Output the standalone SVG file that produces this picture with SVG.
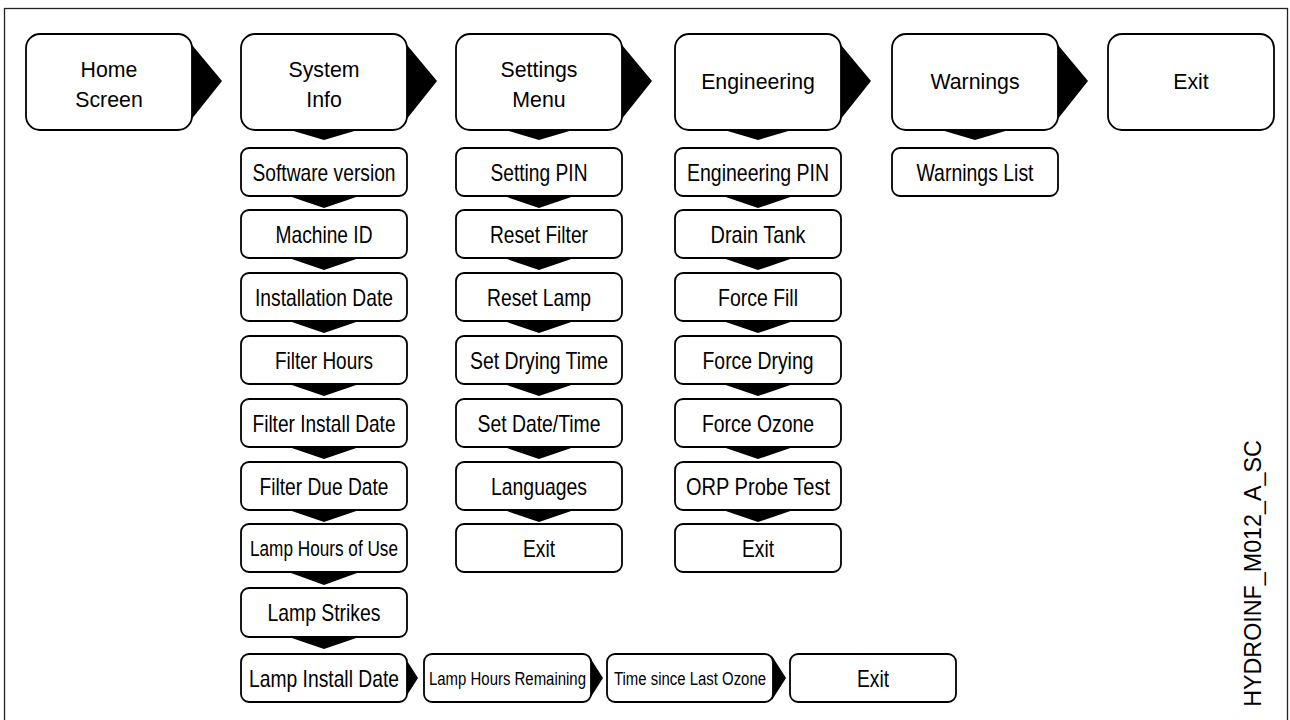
<svg xmlns="http://www.w3.org/2000/svg" width="1290" height="720" viewBox="0 0 1290 720">
<defs>
<style>
.box{fill:#fff;stroke:#000;stroke-width:1.8}
.arr{fill:#000;stroke:none}
.t{font-family:"Liberation Sans",Arial,sans-serif;font-size:21.3px;fill:#000;text-anchor:middle}
.s{font-family:"Liberation Sans Narrow","Arial Narrow","Liberation Sans",Arial,sans-serif;font-size:24px;fill:#000;text-anchor:middle}
.s2{font-size:21.5px}
.s3{font-size:18px}
.v{font-family:"Liberation Sans",Arial,sans-serif;font-size:23.3px;fill:#000;text-anchor:middle}
</style>
</defs>
<rect x="4.5" y="8.5" width="1283" height="730" fill="#fff" stroke="#222" stroke-width="1.3"/>
<g id="connectors">
<!-- top row right arrows -->
<polygon class="arr" points="187,39 222,81 187,125"/>
<polygon class="arr" points="402,39 437,81 402,125"/>
<polygon class="arr" points="617,39 652,81 617,125"/>
<polygon class="arr" points="836,39 871,81 836,125"/>
<polygon class="arr" points="1053,39 1088,81 1053,125"/>
<!-- top row down arrows -->
<polygon class="arr" points="280,127 368,127 324,140"/>
<polygon class="arr" points="495,127 583,127 539,140"/>
<polygon class="arr" points="714,127 802,127 758,140"/>
<polygon class="arr" points="931,127 1019,127 975,140"/>
<!-- column 1 -->
<polygon class="arr" points="280,193 368,193 324,208"/>
<polygon class="arr" points="280,255 368,255 324,270"/>
<polygon class="arr" points="280,318 368,318 324,333"/>
<polygon class="arr" points="280,381 368,381 324,396"/>
<polygon class="arr" points="280,444 368,444 324,459"/>
<polygon class="arr" points="280,507 368,507 324,522"/>
<polygon class="arr" points="280,569 368,569 324,585"/>
<polygon class="arr" points="280,634 368,634 324,649"/>
<!-- column 2 -->
<polygon class="arr" points="495,193 583,193 539,208"/>
<polygon class="arr" points="495,255 583,255 539,270"/>
<polygon class="arr" points="495,318 583,318 539,333"/>
<polygon class="arr" points="495,381 583,381 539,396"/>
<polygon class="arr" points="495,444 583,444 539,459"/>
<polygon class="arr" points="495,507 583,507 539,522"/>
<!-- column 3 -->
<polygon class="arr" points="714,193 802,193 758,208"/>
<polygon class="arr" points="714,255 802,255 758,270"/>
<polygon class="arr" points="714,318 802,318 758,333"/>
<polygon class="arr" points="714,381 802,381 758,396"/>
<polygon class="arr" points="714,444 802,444 758,459"/>
<polygon class="arr" points="714,507 802,507 758,522"/>
<!-- bottom row right arrows -->
<polygon class="arr" points="404,656 418,678 404,700"/>
<polygon class="arr" points="589,656 603,678 589,700"/>
<polygon class="arr" points="772,656 786,678 772,700"/>
</g>
<g id="home"><rect class="box" x="26" y="34" width="166" height="96" rx="14"/><text class="t" x="109" y="77">Home</text><text class="t" x="109" y="107">Screen</text></g>
<g id="system-info"><rect class="box" x="241" y="34" width="166" height="96" rx="14"/><text class="t" x="324" y="77">System</text><text class="t" x="324" y="107">Info</text></g>
<g id="settings-menu"><rect class="box" x="456" y="34" width="166" height="96" rx="14"/><text class="t" x="539" y="77">Settings</text><text class="t" x="539" y="107">Menu</text></g>
<g id="engineering"><rect class="box" x="675" y="34" width="166" height="96" rx="14"/><text class="t" x="758" y="89">Engineering</text></g>
<g id="warnings"><rect class="box" x="892" y="34" width="166" height="96" rx="14"/><text class="t" x="975" y="89">Warnings</text></g>
<g id="exit-main"><rect class="box" x="1108" y="34" width="166" height="96" rx="14"/><text class="t" x="1191" y="89">Exit</text></g>

<g id="software-version"><rect class="box" x="241" y="148" width="166" height="48" rx="8"/><text class="s" x="324" y="180.5" textLength="143" lengthAdjust="spacingAndGlyphs">Software version</text></g>
<g id="machine-id"><rect class="box" x="241" y="210" width="166" height="48" rx="8"/><text class="s" x="324" y="242.5" textLength="97" lengthAdjust="spacingAndGlyphs">Machine ID</text></g>
<g id="installation-date"><rect class="box" x="241" y="273" width="166" height="48" rx="8"/><text class="s" x="324" y="305.5" textLength="138" lengthAdjust="spacingAndGlyphs">Installation Date</text></g>
<g id="filter-hours"><rect class="box" x="241" y="336" width="166" height="48" rx="8"/><text class="s" x="324" y="368.5" textLength="98" lengthAdjust="spacingAndGlyphs">Filter Hours</text></g>
<g id="filter-install-date"><rect class="box" x="241" y="399" width="166" height="48" rx="8"/><text class="s" x="324" y="431.5" textLength="143" lengthAdjust="spacingAndGlyphs">Filter Install Date</text></g>
<g id="filter-due-date"><rect class="box" x="241" y="462" width="166" height="48" rx="8"/><text class="s" x="324" y="494.5" textLength="129" lengthAdjust="spacingAndGlyphs">Filter Due Date</text></g>
<g id="lamp-hours-of-use"><rect class="box" x="241" y="524" width="166" height="48" rx="8"/><text class="s s2" x="324" y="555.5" textLength="148" lengthAdjust="spacingAndGlyphs">Lamp Hours of Use</text></g>
<g id="lamp-strikes"><rect class="box" x="241" y="588" width="166" height="49" rx="8"/><text class="s" x="324" y="621" textLength="113" lengthAdjust="spacingAndGlyphs">Lamp Strikes</text></g>
<g id="lamp-install-date"><rect class="box" x="241" y="654" width="166" height="48" rx="8"/><text class="s" x="324" y="686.5" textLength="150" lengthAdjust="spacingAndGlyphs">Lamp Install Date</text></g>
<g id="lamp-hours-remaining"><rect class="box" x="424" y="654" width="167" height="48" rx="8"/><text class="s s3" x="507.5" y="685" textLength="157" lengthAdjust="spacingAndGlyphs">Lamp Hours Remaining</text></g>
<g id="time-since-last-ozone"><rect class="box" x="607" y="654" width="166" height="48" rx="8"/><text class="s s3" x="690" y="685" textLength="152" lengthAdjust="spacingAndGlyphs">Time since Last Ozone</text></g>
<g id="exit-info"><rect class="box" x="790" y="654" width="166" height="48" rx="8"/><text class="s" x="873" y="686.5" textLength="32" lengthAdjust="spacingAndGlyphs">Exit</text></g>

<g id="setting-pin"><rect class="box" x="456" y="148" width="166" height="48" rx="8"/><text class="s" x="539" y="180.5" textLength="97" lengthAdjust="spacingAndGlyphs">Setting PIN</text></g>
<g id="reset-filter"><rect class="box" x="456" y="210" width="166" height="48" rx="8"/><text class="s" x="539" y="242.5" textLength="98" lengthAdjust="spacingAndGlyphs">Reset Filter</text></g>
<g id="reset-lamp"><rect class="box" x="456" y="273" width="166" height="48" rx="8"/><text class="s" x="539" y="305.5" textLength="104" lengthAdjust="spacingAndGlyphs">Reset Lamp</text></g>
<g id="set-drying-time"><rect class="box" x="456" y="336" width="166" height="48" rx="8"/><text class="s" x="539" y="368.5" textLength="138" lengthAdjust="spacingAndGlyphs">Set Drying Time</text></g>
<g id="set-date-time"><rect class="box" x="456" y="399" width="166" height="48" rx="8"/><text class="s" x="539" y="431.5" textLength="123" lengthAdjust="spacingAndGlyphs">Set Date/Time</text></g>
<g id="languages"><rect class="box" x="456" y="462" width="166" height="48" rx="8"/><text class="s" x="539" y="494.5" textLength="96" lengthAdjust="spacingAndGlyphs">Languages</text></g>
<g id="exit-settings"><rect class="box" x="456" y="524" width="166" height="48" rx="8"/><text class="s" x="539" y="556.5" textLength="32" lengthAdjust="spacingAndGlyphs">Exit</text></g>

<g id="engineering-pin"><rect class="box" x="675" y="148" width="166" height="48" rx="8"/><text class="s" x="758" y="180.5" textLength="142" lengthAdjust="spacingAndGlyphs">Engineering PIN</text></g>
<g id="drain-tank"><rect class="box" x="675" y="210" width="166" height="48" rx="8"/><text class="s" x="758" y="242.5" textLength="95" lengthAdjust="spacingAndGlyphs">Drain Tank</text></g>
<g id="force-fill"><rect class="box" x="675" y="273" width="166" height="48" rx="8"/><text class="s" x="758" y="305.5" textLength="80" lengthAdjust="spacingAndGlyphs">Force Fill</text></g>
<g id="force-drying"><rect class="box" x="675" y="336" width="166" height="48" rx="8"/><text class="s" x="758" y="368.5" textLength="111" lengthAdjust="spacingAndGlyphs">Force Drying</text></g>
<g id="force-ozone"><rect class="box" x="675" y="399" width="166" height="48" rx="8"/><text class="s" x="758" y="431.5" textLength="112" lengthAdjust="spacingAndGlyphs">Force Ozone</text></g>
<g id="orp-probe-test"><rect class="box" x="675" y="462" width="166" height="48" rx="8"/><text class="s" x="758" y="494.5" textLength="144" lengthAdjust="spacingAndGlyphs">ORP Probe Test</text></g>
<g id="exit-engineering"><rect class="box" x="675" y="524" width="166" height="48" rx="8"/><text class="s" x="758" y="556.5" textLength="32" lengthAdjust="spacingAndGlyphs">Exit</text></g>

<g id="warnings-list"><rect class="box" x="892" y="148" width="166" height="48" rx="8"/><text class="s" x="975" y="180.5" textLength="117" lengthAdjust="spacingAndGlyphs">Warnings List</text></g>

<text class="v" transform="translate(1261,573.5) rotate(-90)">HYDROINF_M012_A_SC</text>
</svg>
